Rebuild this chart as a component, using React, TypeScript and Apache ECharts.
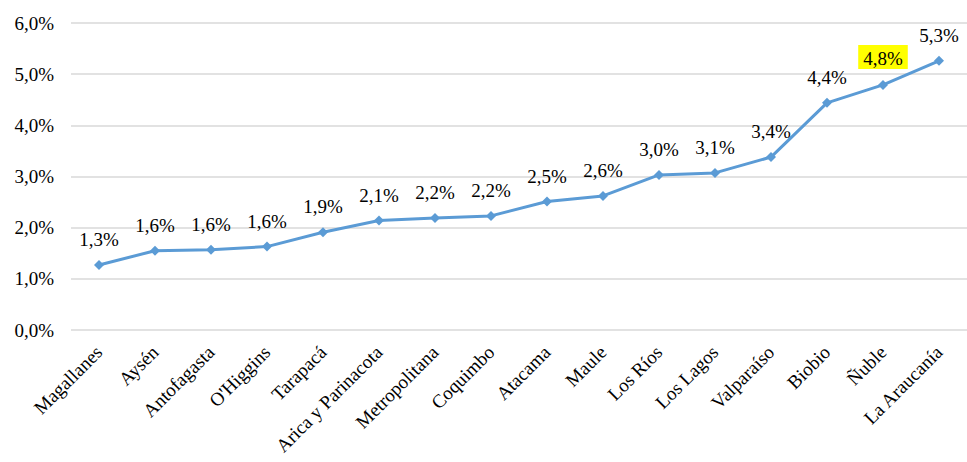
import React, { useEffect, useRef } from "react";
import * as echarts from "echarts";

const regions = [
  "Magallanes",
  "Aysén",
  "Antofagasta",
  "O'Higgins",
  "Tarapacá",
  "Arica y Parinacota",
  "Metropolitana",
  "Coquimbo",
  "Atacama",
  "Maule",
  "Los Ríos",
  "Los Lagos",
  "Valparaíso",
  "Biobio",
  "Ñuble",
  "La Araucanía",
];

// Share per region, in percent
const shares = [1.27, 1.55, 1.57, 1.63, 1.91, 2.14, 2.19, 2.23, 2.51, 2.62, 3.03, 3.07, 3.38, 4.44, 4.79, 5.26];

const highlighted = "Ñuble";

const yTicks = { min: 0, max: 6, interval: 1 };

const FONT = '"Times New Roman", "Liberation Serif", serif';

const fmt = (v: number) => v.toFixed(1).replace(".", ",") + "%";

export default function App() {
  const ref = useRef<HTMLDivElement>(null);

  useEffect(() => {
    if (!ref.current) return;
    const chart = echarts.init(ref.current, null, { renderer: "svg" });
    chart.setOption({
      animation: false,
      backgroundColor: "#ffffff",
      textStyle: { fontFamily: FONT },
      grid: { left: 71, right: 0, top: 23, bottom: 132, containLabel: false },
      xAxis: {
        type: "category",
        data: regions,
        boundaryGap: true,
        axisLine: { show: false },
        axisTick: { show: false },
        axisLabel: {
          rotate: 45,
          interval: 0,
          margin: 19,
          color: "#000",
          fontFamily: FONT,
          fontSize: 19,
        },
      },
      yAxis: {
        type: "value",
        min: yTicks.min,
        max: yTicks.max,
        interval: yTicks.interval,
        axisLine: { show: false },
        axisTick: { show: false },
        splitLine: { lineStyle: { color: "#d9d9d9", width: 1.5 } },
        axisLabel: {
          formatter: (v: number) => fmt(v),
          color: "#000",
          fontFamily: FONT,
          fontSize: 19,
          margin: 17,
        },
      },
      series: [
        {
          type: "line",
          data: shares.map((v, i) => ({
            value: v,
            label:
              regions[i] === highlighted
                ? { backgroundColor: "#ffff00", padding: [4, 5, 1, 5] }
                : undefined,
          })),
          symbol: "diamond",
          symbolSize: 10,
          lineStyle: { color: "#5b9bd5", width: 3 },
          itemStyle: { color: "#5b9bd5" },
          label: {
            show: true,
            position: "top",
            distance: 11,
            formatter: (p: any) => fmt(p.value),
            color: "#000",
            fontFamily: FONT,
            fontSize: 19,
          },
        },
      ],
    });
    return () => chart.dispose();
  }, []);

  return (
    <div
      ref={ref}
      style={{ position: "fixed", left: 0, top: 0, width: 967, height: 462, background: "#fff" }}
    />
  );
}
